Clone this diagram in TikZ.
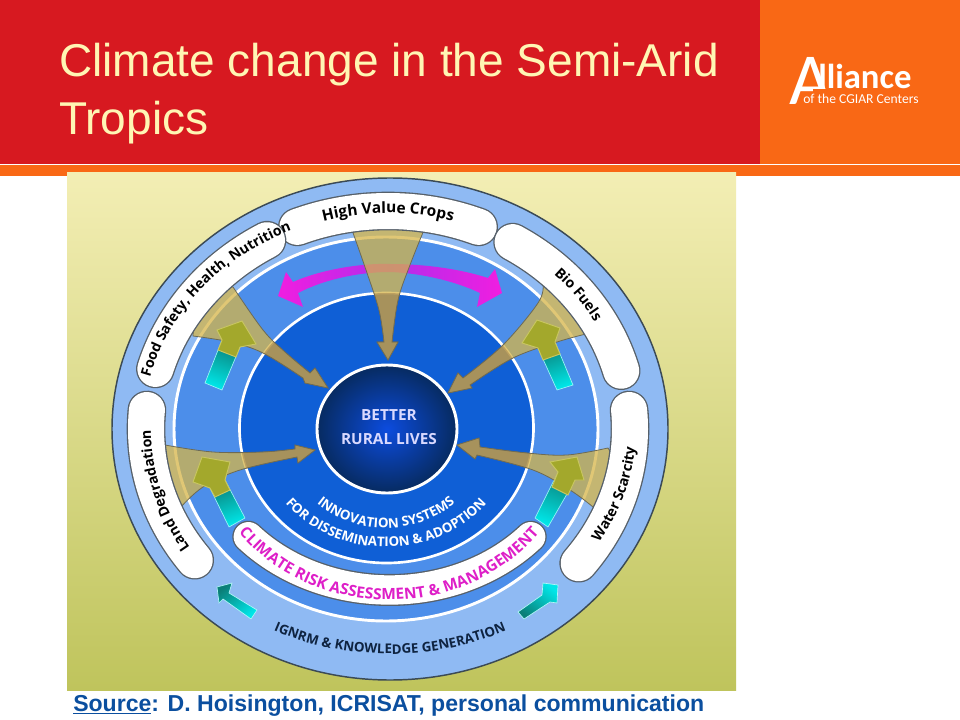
\documentclass[tikz,border=0pt]{standalone}
\usepackage{fontspec}
\setmainfont{Liberation Sans}
\newfontfamily\dia{Open Sans}
\newfontfamily\logo{Carlito}
\usetikzlibrary{decorations.text}
\definecolor{hdred}{HTML}{D71920}
\definecolor{hdorange}{HTML}{F96815}
\definecolor{titlecol}{HTML}{FFF6B4}
\definecolor{srccol}{HTML}{0B4F9F}
\definecolor{bgtop}{HTML}{F3EEB4}
\definecolor{bgbot}{HTML}{BFC45C}
\definecolor{bandA}{HTML}{8FBAF3}
\definecolor{bandB}{HTML}{4C8EEA}
\definecolor{bandC}{HTML}{0F5FD6}
\definecolor{edgecol}{HTML}{3B4A55}
\definecolor{pilledge}{HTML}{56606A}
\definecolor{gold}{HTML}{D6B548}
\definecolor{goldin}{HTML}{A98C55}
\definecolor{wedgeedge}{HTML}{6C6A55}
\definecolor{olive}{HTML}{A3A82C}
\definecolor{olivee}{HTML}{C8C660}
\definecolor{mag}{HTML}{F01EE0}
\definecolor{climcol}{HTML}{DE1FC8}
\definecolor{navy}{HTML}{0E2340}
\definecolor{teal1}{HTML}{0A7F78}
\definecolor{cyan1}{HTML}{00E6E8}
\newcommand{\arcp}[6]{plot[domain=#5:#6,samples=70,variable=\q] ({#1+#2*cos(\q)},{#3-#4*sin(\q)})}
\newcommand{\pillarc}[6]{%
  \draw[pilledge,line width=29pt,line cap=round] \arcp{#1}{#2}{#3}{#4}{#5}{#6};
  \draw[white,line width=27pt,line cap=round] \arcp{#1}{#2}{#3}{#4}{#5}{#6};}
\newcommand{\ftA}{\dia\bfseries\fontsize{11.6}{12}\selectfont}
\newcommand{\ftB}{\dia\bfseries\fontsize{10.6}{12}\selectfont}
\newcommand{\ftC}{\dia\bfseries\fontsize{10}{12}\selectfont}
\tikzset{
  x=0.75pt,y=-0.75pt,
  curved/.style={decorate,decoration={text along path,text align=center,text={#1}}},
  cyanarrow/.style={draw=cyan1!40!white,line width=.5pt},
  olivehead/.style={fill=olive,draw=olivee,line width=.7pt},
  wedgeout/.style={fill=gold,fill opacity=.75,draw=wedgeedge,line width=.6pt},
  wedgein/.style={fill=goldin,fill opacity=.65,draw=wedgeedge,line width=.4pt},
  titletext/.style={text=titlecol,font=\fontsize{34.5}{36}\selectfont,anchor=base west,inner sep=0pt}
}
\newcommand{\wedgeH}{plot[smooth,tension=.6] coordinates {(352,230) (366,270) (379,310) (384,342)} -- (377,342) -- (388,360) -- (398,342) -- (392,342) -- plot[smooth,tension=.6] coordinates {(392,342) (398,300) (410,265) (424,230)} -- (388,212) -- cycle}
\newcommand{\wedgeF}{plot[smooth,tension=.6] coordinates {(233,287) (263,330) (285,352) (310,373)} -- (315,368) -- (328,388) -- (305,383) -- (303,378) -- plot[smooth,tension=.6] coordinates {(303,378) (263,353) (230,342) (193,336)} -- (195,290) -- cycle}
\newcommand{\wedgeB}{plot[smooth,tension=.6] coordinates {(543,285) (538,303) (503,345) (463,378)} -- (458,373) -- (448,393) -- (472,388) -- (470,385) -- plot[smooth,tension=.6] coordinates {(470,385) (513,358) (557,342) (586,334)} -- (582,290) -- cycle}
\newcommand{\wedgeL}{plot[smooth,tension=.6] coordinates {(165,445) (213,452) (263,452) (295,449)} -- (295,445) -- (315,450) -- (298,463) -- (297,457) -- plot[smooth,tension=.6] coordinates {(297,457) (240,470) (203,487) (180,508)} -- (145,480) -- cycle}
\newcommand{\wedgeW}{plot[smooth,tension=.6] coordinates {(608,448) (567,455) (527,453) (480,447)} -- (479,438) -- (457,445) -- (475,459) -- (477,455) -- plot[smooth,tension=.6] coordinates {(477,455) (533,470) (570,490) (593,507)} -- (630,485) -- cycle}
\begin{document}
\begin{tikzpicture}
\useasboundingbox (0,0) rectangle (960,720);
\fill[white] (0,0) rectangle (960,720);
% header
\fill[hdred] (0,0) rectangle (760,164);
\fill[hdorange] (760,0) rectangle (960,164);
\fill[hdorange] (0,165) rectangle (960,176);
\node[titletext] (t1) at (59,77) {Climate change in the Semi-Arid};
\node[titletext] (t2) at (59,135) {Tropics};
% logo
\begin{scope}
\clip (780,50) -- (780,110) -- (812,110) -- (812,89) -- (834,89) -- (834,50) -- cycle;
\node[white,font=\logo\fontsize{55}{56}\selectfont,anchor=base west,inner sep=0pt] (logoA) at (789,105) {A};
\end{scope}
\node[white,font=\logo\bfseries\fontsize{26}{28}\selectfont,anchor=base west,inner sep=0pt] (logoB) at (818,89) {lliance};
\node[white,font=\logo\fontsize{10.2}{12}\selectfont,anchor=base west,inner sep=0pt] (logoC) at (803,104) {of the CGIAR Centers};
% picture panel
\shade[top color=bgtop,bottom color=bgbot] (67,173) rectangle (736,690);
% rings
\fill[bandA,draw=edgecol,line width=1.1pt] (390,429) ellipse [x radius=278,y radius=251];
\fill[bandB,draw=white,line width=2.2pt] (386,429) ellipse [x radius=212,y radius=192];
\fill[bandC,draw=white,line width=2pt] (386.5,428) ellipse [x radius=147,y radius=135];
% magenta double arrow
\shade[left color=mag,right color=mag,middle color=mag!70!blue!90!white]
  (278,296) -- (286,272) -- (293,282) .. controls (320,270) and (360,263) .. (390,264)
  .. controls (425,264) and (460,269) .. (488,278) -- (495,269) -- (502,293) -- (477,307) -- (480,293)
  .. controls (455,281) and (420,273) .. (390,272) .. controls (360,272) and (325,279) .. (298,293) -- (303,307) -- cycle;
% cyan arrows in the middle band
\shade[cyanarrow,top color=teal1,bottom color=cyan1,shading angle=-20] (205,383) -- (222,390) -- (240,347) -- (222,340) -- cycle;
\shade[cyanarrow,top color=teal1,bottom color=cyan1,shading angle=20] (557,390) -- (573,385) -- (555,342) -- (538,348) -- cycle;
\shade[cyanarrow,top color=teal1,bottom color=cyan1,shading angle=20] (229,527) -- (245,518) -- (225,480) -- (210,488) -- cycle;
\shade[cyanarrow,top color=teal1,bottom color=cyan1,shading angle=-20] (535,518) -- (548,527) -- (575,480) -- (558,472) -- cycle;
% gold wedges
\fill[wedgeout] \wedgeH;
\fill[wedgeout] \wedgeF;
\fill[wedgeout] \wedgeB;
\fill[wedgeout] \wedgeL;
\fill[wedgeout] \wedgeW;
\begin{scope}
\clip (386.5,428) ellipse [x radius=147,y radius=135];
\fill[wedgein] \wedgeH;
\fill[wedgein] \wedgeF;
\fill[wedgein] \wedgeB;
\fill[wedgein] \wedgeL;
\fill[wedgein] \wedgeW;
\end{scope}
% olive heads
\fill[olivehead] (217,330) -- (242,321) -- (256,344) -- (240,347) -- (236,357) -- (218,350) -- (222,340) -- cycle;
\fill[olivehead] (522,343) -- (537,320) -- (560,328) -- (555,342) -- (560,354) -- (543,360) -- (538,348) -- cycle;
\fill[olivehead] (193,482) -- (202,457) -- (230,462) -- (225,480) -- (230,490) -- (215,497) -- (210,488) -- cycle;
\fill[olivehead] (550,462) -- (577,457) -- (584,480) -- (575,480) -- (568,495) -- (552,487) -- (558,472) -- cycle;
% bottom arrows
\shade[cyanarrow,left color=teal1,right color=cyan1,shading angle=40,draw=cyan1!30!white] (257,610) -- (251,619) -- (223,599) -- (219,603) -- (217,587) -- (232,583) -- (229,593) -- cycle;
\shade[cyanarrow,right color=teal1,left color=cyan1,shading angle=-40,draw=cyan1!30!white] (518,612) -- (524,619) -- (550,602) -- (557,603) -- (558,585) -- (543,583) -- (542,595) -- cycle;
% pills
\pillarc{388}{242}{429}{218}{68}{112}
\pillarc{388}{242}{429}{218}{15.5}{59}
\pillarc{388}{242}{429}{218}{-38}{5}
\pillarc{388}{242}{429}{218}{175}{217}
\pillarc{388}{242}{429}{218}{120}{164}
\draw[pilledge,line width=24pt,line cap=round] \arcp{389.5}{190}{429}{161}{222}{318};
\draw[white,line width=22pt,line cap=round] \arcp{389.5}{190}{429}{161}{222}{318};
% central circle
\shade[inner color=blue!20!bandC,outer color=bandC!45!black,draw=white,line width=2.2pt] (387,429) ellipse [x radius=70,y radius=64];
\node[text=white!85!blue,font=\dia\bfseries\fontsize{11.5}{15}\selectfont,align=center,inner sep=0pt] (core) at (389,427) {BETTER\\[3pt]RURAL LIVES};
% curved labels
\path[curved={|\ftA\color{black}|High Value Crops}] \arcp{388}{236}{429}{216}{125}{55};
\path[curved={|\ftB\color{black}|Food Safety, Health, Nutrition}] \arcp{388}{245}{429}{216}{190}{92};
\path[curved={|\ftB\color{black}|Bio Fuels}] \arcp{388}{238}{429}{216}{70}{4};
\path[curved={|\ftB\color{black}|Land Degradation}] \arcp{388}{237}{429}{216}{246}{146};
\path[curved={|\ftB\color{black}|Water Scarcity}] \arcp{388}{248}{429}{216}{-67}{33};
\path[curved={|\ftA\color{climcol}|CLIMATE RISK ASSESSMENT {\&} MANAGEMENT}] \arcp{389}{189}{429}{171}{200}{340};
\path[curved={|\ftC\color{navy}|IGNRM {\&} KNOWLEDGE GENERATION}] \arcp{390}{262}{429}{225}{225}{315};
\path[curved={|\ftC\color{white}|INNOVATION SYSTEMS}] \arcp{386}{105}{429}{99}{190}{350};
\path[curved={|\ftC\color{white}|FOR DISSEMINATION {\&} ADOPTION}] \arcp{386}{130}{429}{118}{180}{360};
% source
\node[text=srccol,font=\bfseries\fontsize{17.3}{20}\selectfont,anchor=base west,inner sep=0pt] (src) at (73,711) {\underline{Source}: D. Hoisington, ICRISAT, personal communication};
\end{tikzpicture}
\end{document}
